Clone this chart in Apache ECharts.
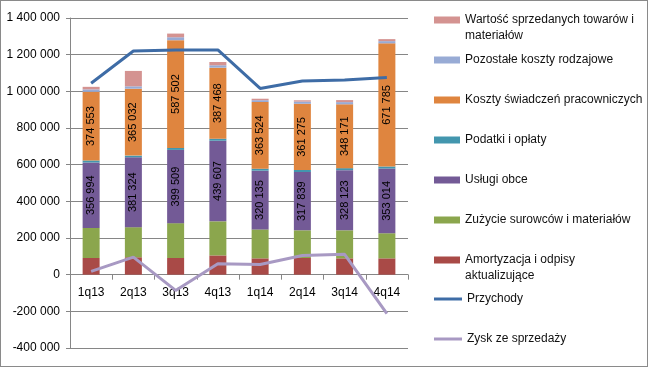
<!DOCTYPE html>
<html><head><meta charset="utf-8">
<script src="https://cdn.jsdelivr.net/npm/echarts@6/dist/echarts.min.js"></script>
<style>html,body{margin:0;padding:0;background:#fff}#c{width:649px;height:368px;position:absolute;left:0;top:0}#b{position:absolute;left:0;top:0;width:648px;height:367px;box-sizing:border-box;border:1px solid #8a8a8a;pointer-events:none}</style>
</head><body><div id="c"></div><div id="b"></div>
<script>
var categories = ['1q13','2q13','3q13','4q13','1q14','2q14','3q14','4q14'];
var amortyzacja = [91000, 95000, 91000, 105000, 89000, 91000, 89000, 89000];
var zuzycie = [164000, 164000, 190000, 186000, 158000, 151000, 153000, 137000];
var uslugi = [356994, 381324, 399509, 439607, 320135, 317839, 328123, 353014];
var podatki = [11000, 9000, 11000, 11000, 11000, 11000, 11000, 11000];
var koszty = [374553, 365032, 587502, 387468, 363524, 361275, 348171, 671785];
var pozostale = [13000, 13000, 16000, 13000, 10000, 12000, 12000, 12000];
var wartosc = [14000, 84000, 20000, 18000, 8000, 7000, 11000, 11000];
var przychody = [1044000, 1220000, 1225000, 1226000, 1016000, 1056000, 1062000, 1075000];
var zysk = [18000, 96000, -86000, 60000, 55000, 105000, 111000, -213000];
var yTicks = {min: -400000, max: 1400000, interval: 200000};

var FONT = '"Liberation Sans", Arial, sans-serif';
function fmt(v) {
  var s = String(Math.abs(Math.round(v)));
  s = s.replace(/\B(?=(\d{3})+(?!\d))/g, ' ');
  return (v < 0 ? '-' : '') + s;
}
var names = {
  am: 'Amortyzacja i odpisy aktualizujące',
  zu: 'Zużycie surowców i materiałów',
  us: 'Usługi obce',
  po: 'Podatki i opłaty',
  ko: 'Koszty świadczeń pracowniczych',
  pz: 'Pozostałe koszty rodzajowe',
  wa: 'Wartość sprzedanych towarów i materiałów',
  pr: 'Przychody',
  zy: 'Zysk ze sprzedaży'
};
var colors = {
  am: '#A94A47', zu: '#8BA64D', us: '#735A96', po: '#4396AE',
  ko: '#DF853F', pz: '#98ABD5', wa: '#D49391', pr: '#3E6CA6', zy: '#A899C3'
};
var wrapped = {};
wrapped[names.wa] = 'Wartość sprzedanych towarów i\nmateriałów';
wrapped[names.am] = 'Amortyzacja i odpisy\naktualizujące';

var GRID_TOP = 18, GRID_H = 330;
// pixel distance from grid bottom to the zero value line
var zeroOffset = -GRID_H * (0 - yTicks.min) / (yTicks.max - yTicks.min);

function barSeries(key, data, withLabel) {
  return {
    name: names[key], type: 'bar', stack: 'k', data: data, barWidth: 17,
    itemStyle: {color: colors[key]},
    label: withLabel ? {
      show: true, position: 'inside', rotate: 90, color: '#000',
      fontFamily: FONT, fontSize: 11,
      formatter: function (p) { return fmt(p.value); }
    } : {show: false},
    emphasis: {disabled: true}
  };
}
function lineSeries(key, data) {
  return {
    name: names[key], type: 'line', data: data, symbol: 'none', z: 5,
    lineStyle: {color: colors[key], width: 3}, itemStyle: {color: colors[key]},
    emphasis: {disabled: true}
  };
}
var rectIcon = 'path://M0,0H26V7H0Z';
var tallIcon = 'path://M0,0H26V7H0Z M0,22.99H0.01V23H0Z';
var lineIcon = 'path://M0,0H28V3H0Z';
function legend(key, top, icon, w, h) {
  return {
    data: [names[key]], left: 434, top: top, orient: 'vertical', padding: 0,
    itemGap: 0, itemWidth: w, itemHeight: h, icon: icon,
    formatter: function (n) { return wrapped[n] || n; },
    textStyle: {fontFamily: FONT, fontSize: 12, lineHeight: 16, color: '#111'}
  };
}
var chart = echarts.init(document.getElementById('c'));
chart.setOption({
  animation: false,
  backgroundColor: '#fff',
  grid: {left: 70, top: GRID_TOP, width: 338, height: GRID_H},
  legend: [
    legend('wa', 12, tallIcon, 26, 23),
    legend('pz', 52, rectIcon, 26, 7),
    legend('ko', 92, rectIcon, 26, 7),
    legend('po', 132, rectIcon, 26, 7),
    legend('us', 172, rectIcon, 26, 7),
    legend('zu', 212, rectIcon, 26, 7),
    legend('am', 252, tallIcon, 26, 23),
    legend('pr', 291, lineIcon, 28, 3),
    legend('zy', 331, lineIcon, 28, 3)
  ],
  xAxis: {
    type: 'category', data: categories, position: 'bottom', offset: zeroOffset,
    axisLine: {onZero: false, lineStyle: {color: '#868686'}},
    axisTick: {show: true, length: 5, lineStyle: {color: '#868686'}},
    axisLabel: {fontFamily: FONT, fontSize: 12, color: '#000', margin: 12}
  },
  yAxis: {
    type: 'value', min: yTicks.min, max: yTicks.max, interval: yTicks.interval,
    axisLine: {show: true, lineStyle: {color: '#868686'}},
    axisTick: {show: true, length: 4, lineStyle: {color: '#868686'}},
    splitLine: {lineStyle: {color: '#868686'}},
    axisLabel: {fontFamily: FONT, fontSize: 12, color: '#000', margin: 10,
      formatter: function (v) { return fmt(v); }}
  },
  series: [
    barSeries('am', amortyzacja, false),
    barSeries('zu', zuzycie, false),
    barSeries('us', uslugi, true),
    barSeries('po', podatki, false),
    barSeries('ko', koszty, true),
    barSeries('pz', pozostale, false),
    barSeries('wa', wartosc, false),
    lineSeries('pr', przychody),
    lineSeries('zy', zysk)
  ]
});
</script></body></html>
